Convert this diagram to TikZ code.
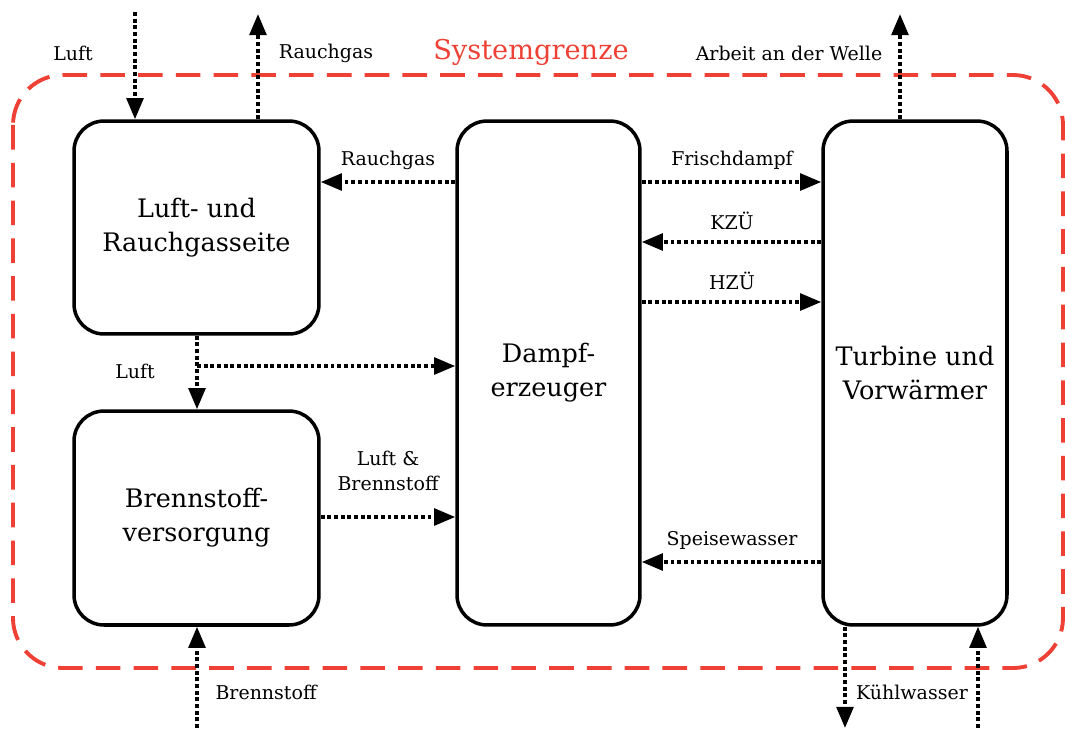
\documentclass[tikz,border=0pt]{standalone}
\usepackage{fontspec}
\setmainfont{DejaVu Serif}
\usetikzlibrary{arrows.meta,calc}
\definecolor{sysred}{RGB}{238,64,52}
\tikzset{
  blockbox/.style={draw, line width=2pt, rounded corners=0.6cm, align=center,
    font=\fontsize{14.5}{19.5}\selectfont, inner sep=0pt},
  flow/.style={line width=2pt, dash pattern=on 2.2pt off 1.6pt,
    -{Triangle[length=12pt,width=9.5pt]}},
  lbl/.style={font=\fontsize{10.8}{14.5}\selectfont, align=center, inner sep=0pt},
  border/.style={draw=sysred, line width=2.2pt, dash pattern=on 14pt off 7.5pt, rounded corners=1cm}
}
\begin{document}
\begin{tikzpicture}[x=0.02cm,y=-0.02cm]
\useasboundingbox (0,0) rectangle (1065,728);
% system boundary
\draw[border] (13,75) rectangle (1063,668);
\node[text=sysred, font=\fontsize{15.5}{20}\selectfont, inner sep=0pt] (sys) at (531,52) {Systemgrenze};
% blocks
\node[blockbox, minimum width=4.9cm, minimum height=4.26cm] (lr) at (196.5,227.5) {Luft- und\\Rauchgasseite};
\node[blockbox, minimum width=4.9cm, minimum height=4.28cm] (bv) at (196.5,518) {Brennstoff-\\versorgung};
\node[blockbox, minimum width=3.66cm, minimum height=10.08cm] (de) at (548.5,373) {Dampf-\\erzeuger};
\node[blockbox, minimum width=3.68cm, minimum height=10.08cm] (tv) at (915,373) {Turbine und\\Vorwärmer};
% free ends
\coordinate (luftin) at (135,12);
\coordinate (rgout) at (258,14);
\coordinate (welle) at (900,14);
\coordinate (bsin) at (197,728);
\coordinate (kwout) at (845,728);
\coordinate (kwin) at (978,728);
\coordinate (yRG) at (0,182);
\coordinate (yKZ) at (0,242);
\coordinate (yHZ) at (0,302);
\coordinate (yLB) at (0,517);
\coordinate (ySW) at (0,562);
\coordinate (yLu) at (0,366);
\coordinate (branch) at (197,366);
% connectors
\draw[flow] (luftin) -- (lr.north -| luftin);
\draw[flow] (lr.north -| rgout) -- (rgout);
\draw[flow] (de.west |- yRG) -- (lr.east |- yRG);
\draw[flow] (lr.south -| branch) -- (bv.north -| branch);
\draw[flow] (branch) -- (de.west |- yLu);
\draw[flow] (bv.east |- yLB) -- (de.west |- yLB);
\draw[flow] (bsin) -- (bv.south -| bsin);
\draw[flow] (de.east |- yRG) -- (tv.west |- yRG);
\draw[flow] (tv.west |- yKZ) -- (de.east |- yKZ);
\draw[flow] (de.east |- yHZ) -- (tv.west |- yHZ);
\draw[flow] (tv.west |- ySW) -- (de.east |- ySW);
\draw[flow] (tv.north -| welle) -- (welle);
\draw[flow] (tv.south -| kwout) -- (kwout);
\draw[flow] (kwin) -- (tv.south -| kwin);
% labels
\node[lbl] (l1) at (73,53) {Luft};
\node[lbl] (l2) at (326,53) {Rauchgas};
\node[lbl] (l3) at (789,53) {Arbeit an der Welle};
\node[lbl] (l4) at (388,160) {Rauchgas};
\node[lbl] (l5) at (732,160) {Frischdampf};
\node[lbl] (l6) at (732,221) {KZÜ};
\node[lbl] (l7) at (732,281) {HZÜ};
\node[lbl] (l8) at (135,371) {Luft};
\node[lbl] (l9) at (388,471) {Luft \&\\Brennstoff};
\node[lbl] (l10) at (732,540) {Speisewasser};
\node[lbl] (l11) at (266,692) {Brennstoff};
\node[lbl] (l12) at (912,692) {Kühlwasser};
\end{tikzpicture}
\end{document}
